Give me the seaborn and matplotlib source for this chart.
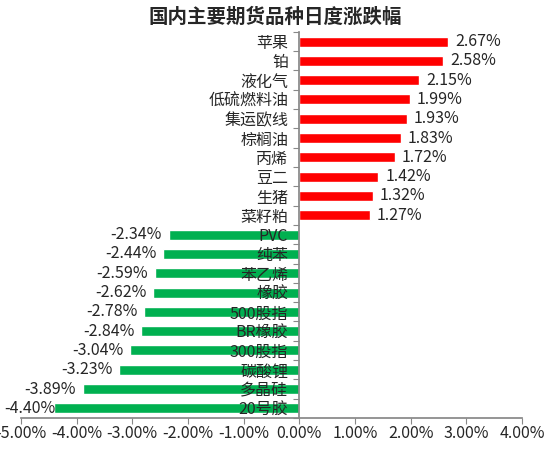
import pandas as pd
import numpy as np
import matplotlib
matplotlib.use("Agg")
import matplotlib.pyplot as plt
from matplotlib.ticker import FuncFormatter, FixedLocator
import seaborn as sns

# ======================
# 数据
# ======================
品种 = ['苹果', '铂', '液化气', '低硫燃料油', '集运欧线', '棕榈油', '丙烯', '豆二', '生猪', '菜籽粕',
      'PVC', '纯苯', '苯乙烯', '橡胶', '500股指', 'BR橡胶', '300股指', '碳酸锂', '多晶硅', '20号胶']
涨跌幅 = [2.67, 2.58, 2.15, 1.99, 1.93, 1.83, 1.72, 1.42, 1.32, 1.27,
       -2.34, -2.44, -2.59, -2.62, -2.78, -2.84, -3.04, -3.23, -3.89, -4.40]
x_ticks = [-5, -4, -3, -2, -1, 0, 1, 2, 3, 4]

df = pd.DataFrame({'品种': 品种, '涨跌幅': 涨跌幅})
df['方向'] = np.where(df['涨跌幅'] >= 0, '涨', '跌')

# ======================
# 绘图
# ======================
sns.set_theme(style='white')
plt.rcParams['font.family'] = ['Noto Sans CJK SC', 'DejaVu Sans']
plt.rcParams['axes.unicode_minus'] = False

fig = plt.figure(figsize=(5.5, 4.49), dpi=100)
ax = fig.add_axes([0.038, 0.069, 0.911, 0.86])

sns.barplot(data=df, x='涨跌幅', y='品种', hue='方向',
            palette={'涨': '#FF0000', '跌': '#00B050'}, saturation=1,
            dodge=False, width=0.52, legend=False, ax=ax)
ax.set_axisbelow(False)  # 分类标签要压在绿色柱子上面

ax.set_xlim(-5, 4)
ax.set_xticks(x_ticks)
ax.xaxis.set_major_formatter(FuncFormatter(lambda v, p: f'{v:.2f}%'))
ax.tick_params(axis='x', direction='out', length=4, width=0.8, color='#888888',
               labelsize=11.5, pad=1, bottom=True)

# y轴放在0处, 分类标签靠左, 刻度在分类边界
ax.spines['left'].set_position(('data', 0))
ax.spines['left'].set_color('#888888')
ax.spines['bottom'].set_color('#888888')
ax.spines['top'].set_visible(False)
ax.spines['right'].set_visible(False)
ax.yaxis.set_minor_locator(FixedLocator(np.arange(-0.5, len(品种), 1)))
ax.tick_params(axis='y', which='major', length=0, pad=8, labelsize=11.5)
ax.tick_params(axis='y', which='minor', left=True, length=4, width=0.8, color='#888888')
ax.set_xlabel('')
ax.set_ylabel('')

# 数值标签
labels = []
for i, v in enumerate(涨跌幅):
    if v >= 0:
        a = ax.annotate(f'{v:.2f}%', (v, i), xytext=(5, 0), textcoords='offset points',
                        ha='left', va='center', fontsize=11.5)
    else:
        a = ax.annotate(f'{v:.2f}%', (v, i), xytext=(-5, 0), textcoords='offset points',
                        ha='right', va='center', fontsize=11.5)
    labels.append(a)

fig.suptitle('国内主要期货品种日度涨跌幅', x=0.5, y=0.982, fontsize=14, fontweight='bold')

# 超出左边的标签往右挪一点 (像Excel那样)
fig.canvas.draw()
for a in labels:
    bb = a.get_window_extent()
    if bb.x0 < 4:
        dx = (4 - bb.x0) * 72 / fig.dpi
        a.xyann = (a.xyann[0] + dx, a.xyann[1])

fig.savefig('out.png', dpi=100)
